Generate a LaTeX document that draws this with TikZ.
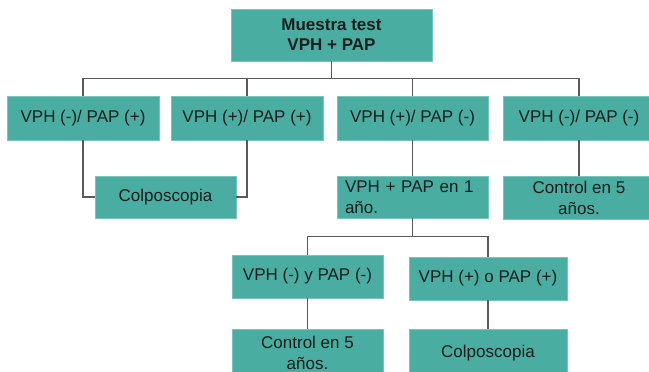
\documentclass[tikz,border=0pt]{standalone}
\usepackage{fontspec}
\setmainfont{Liberation Sans}
\definecolor{boxfill}{RGB}{74,173,161}
\definecolor{boxedge}{RGB}{120,196,187}
\definecolor{linegray}{RGB}{90,90,90}
\definecolor{txt}{RGB}{25,30,30}
\begin{document}
\begin{tikzpicture}[x=1pt,y=-1pt,
  box/.style={fill=boxfill,draw=boxedge,line width=0.8pt,inner sep=0pt,align=center,
    text=txt,font=\fontsize{17}{21}\selectfont},
  conn/.style={draw=linegray,line width=1.4pt}]
\useasboundingbox (0,0) rectangle (649,372);
\node[box,minimum width=201pt,minimum height=52pt,font=\fontsize{17}{20}\selectfont\bfseries] (top) at (331.5,35) {Muestra test\\VPH + PAP};
\node[box,minimum width=152pt,minimum height=44pt] (b1) at (83,118) {VPH (-)/ PAP (+)};
\node[box,minimum width=152pt,minimum height=44pt] (b2) at (247,118) {VPH (+)/ PAP (+)};
\node[box,minimum width=151pt,minimum height=44pt] (b3) at (412.5,118) {VPH (+)/ PAP (-)};
\node[box,minimum width=152pt,minimum height=44pt] (b4) at (579,118) {VPH (-)/ PAP (-)};
\node[box,minimum width=141pt,minimum height=42pt] (colp1) at (165.5,197) {Colposcopia};
\node[box,minimum width=151pt,minimum height=42pt,text width=135pt,align=left] (vpap) at (412.5,197) {VPH + PAP en 1\\año.};
\node[box,minimum width=152pt,minimum height=43pt] (ctrl1) at (579,197.5) {Control en 5\\años.};
\node[box,minimum width=151pt,minimum height=43pt] (m1) at (307.5,276.5) {VPH (-) y PAP (-)};
\node[box,minimum width=158pt,minimum height=43pt] (m2) at (488,278.5) {VPH (+) o PAP (+)};
\node[box,minimum width=151pt,minimum height=47pt] (ctrl2) at (307.5,353) {Control en 5\\años.};
\node[box,minimum width=158pt,minimum height=47pt] (colp2) at (488,353) {Colposcopia};
\begin{scope}[on background layer/.try]
\end{scope}
\draw[conn] (top.south) -- ++(0,17) coordinate (j1);
\draw[conn] (b1.north) |- (j1);
\draw[conn] (b4.north) |- (j1);
\draw[conn] (b2.north) -- (b2.north |- j1);
\draw[conn] (b3.north) -- (b3.north |- j1);
\draw[conn] (b1.south) |- (colp1.west);
\draw[conn] (b2.south) |- (colp1.east);
\draw[conn] (b3.south) -- (vpap.north);
\draw[conn] (b4.south) -- (ctrl1.north);
\draw[conn] (vpap.south) -- ++(0,18) coordinate (j2);
\draw[conn] (m1.north) |- (j2);
\draw[conn] (m2.north) |- (j2);
\draw[conn] (m1.south) -- (ctrl2.north);
\draw[conn] (m2.south) -- (colp2.north);
\end{tikzpicture}
\end{document}
